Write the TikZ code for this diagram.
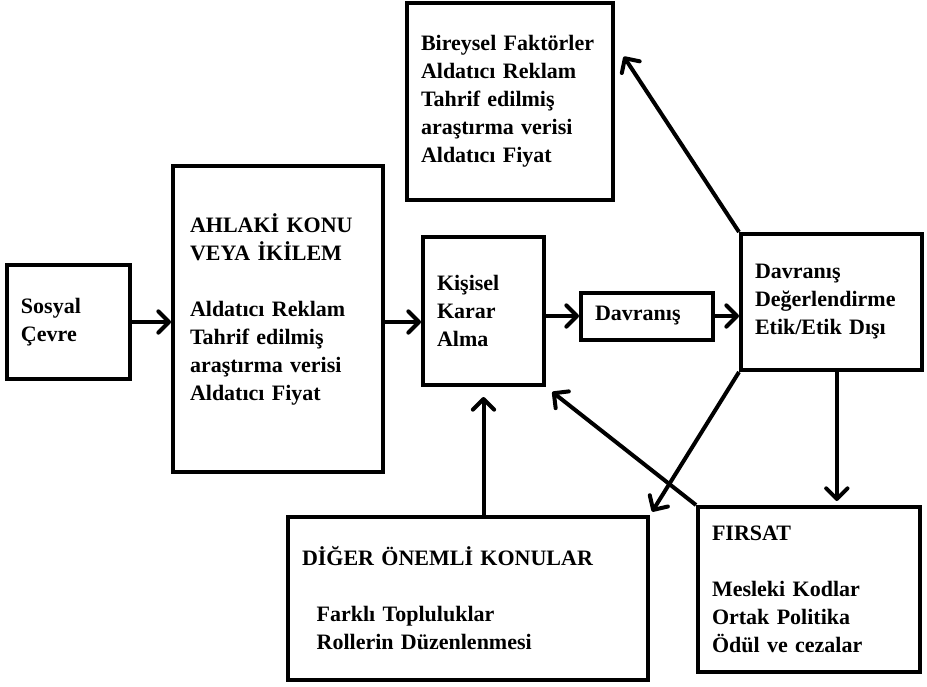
\documentclass[tikz,border=0pt]{standalone}
\usepackage{fontspec}
\setmainfont{Liberation Serif}
\usetikzlibrary{arrows.meta}
\usetikzlibrary{positioning}
\usetikzlibrary{calc}

\begin{document}
\begin{tikzpicture}[x=0.75pt,y=-0.75pt,
    kutu/.style={rectangle,draw,line width=3pt,align=left,inner xsep=10.5pt,inner ysep=0pt,
                 font=\fontsize{16.5}{21}\selectfont\bfseries},
    ok/.style={line width=3pt,arrows = -{Straight Barb[length=8pt,width=16pt,round]}}]

            % \draw [help lines] (0,0) grid (927,686);
            \useasboundingbox (0,0) rectangle (927,686);

            \path   (68.5,322) node (sosyal) [kutu,text width=71.25pt,minimum height=85.5pt]
                        {Sosyal\\Çevre}
                    (278,319) node (ahlaki) [kutu,inner xsep=12.75pt,text width=132pt,minimum height=229.5pt]
                        {AHLAKİ KONU\\VEYA İKİLEM\\[21pt]Aldatıcı Reklam\\Tahrif edilmiş\\araştırma verisi\\Aldatıcı Fiyat\\[-3pt]\mbox{}}
                    (483.5,311) node (kisisel) [kutu,text width=69.75pt,minimum height=111pt]
                        {Kişisel\\Karar\\Alma}
                    (647,316) node (davranis) [kutu,text width=78pt,minimum height=35.25pt]
                        {Davranış}
                    (831.5,302) node (degerlendirme) [kutu,text width=114.75pt,minimum height=102pt]
                        {Davranış\\Değerlendirme\\Etik/Etik Dışı}
                    (510,101.5) node (bireysel) [kutu,text width=133.5pt,minimum height=147.75pt]
                        {Bireysel Faktörler\\Aldatıcı Reklam\\Tahrif edilmiş\\araştırma verisi\\Aldatıcı Fiyat}
                    (468,598.5) node (diger) [kutu,text width=249pt,minimum height=122.25pt]
                        {DİĞER ÖNEMLİ KONULAR\\[21pt]\hspace*{11pt}Farklı Topluluklar\\\hspace*{11pt}Rollerin Düzenlenmesi}
                    (809,589.5) node (firsat) [kutu,text width=145.5pt,minimum height=123.75pt]
                        {FIRSAT\\[21pt]Mesleki Kodlar\\Ortak Politika\\Ödül ve cezalar};

            \coordinate (bireysel ok) at ($(bireysel.north east)!0.21!(bireysel.south east)$);

            \draw[ok] (sosyal.east) -- (sosyal.east -| ahlaki.west);
            \draw[ok] (ahlaki.east |- sosyal.east) -- (kisisel.west |- sosyal.east);
            \draw[ok] (kisisel.east |- davranis.west) -- (davranis.west);
            \draw[ok] (davranis.east) -- (davranis.east -| degerlendirme.west);

            \draw[ok,shorten >=12pt] (degerlendirme.north west) -- (bireysel ok);
            \draw[ok,shorten >=3pt] (degerlendirme.south west) -- (diger.north east);
            \draw[ok,shorten >=3pt] ([xshift=4pt]degerlendirme.south) -- ([xshift=4pt]degerlendirme.south |- firsat.north);
            \draw[ok,shorten >=6pt] (firsat.north west) -- (kisisel.south east);
            \draw[ok,shorten >=7.5pt] (diger.north -| kisisel.south) -- (kisisel.south);

\end{tikzpicture}
\end{document}
